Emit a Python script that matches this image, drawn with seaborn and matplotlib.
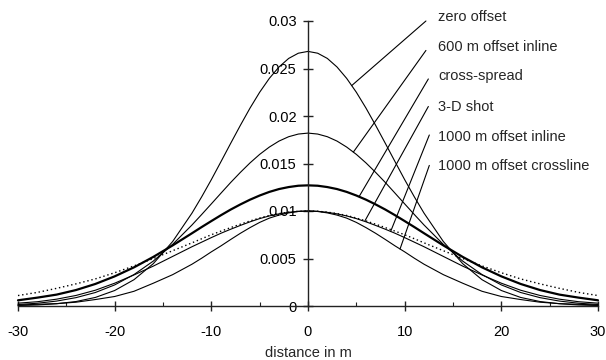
import numpy as np
import pandas as pd
import matplotlib
matplotlib.use("Agg")
import matplotlib.pyplot as plt
from matplotlib.ticker import FixedLocator
import seaborn as sns

# ---- data ----
distance = [-30, -28, -26, -24, -22, -20, -18, -16, -14, -12, -11, -10, -9, -8, -7, -6, -5, -4, -3, -2, -1,
            0, 1, 2, 3, 4, 5, 6, 7, 8, 9, 10, 11, 12, 14, 16, 18, 20, 22, 24, 26, 28, 30]

zero_offset = [0.00005, 0.00011, 0.00024, 0.00047, 0.00090, 0.00163, 0.00277, 0.00446, 0.00679, 0.00978, 0.01149,
               0.01330, 0.01520, 0.01712, 0.01901, 0.02083, 0.02250, 0.02396, 0.02516, 0.02606, 0.02661,
               0.02680,
               0.02661, 0.02606, 0.02516, 0.02396, 0.02250, 0.02083, 0.01901, 0.01712, 0.01520, 0.01330,
               0.01149, 0.00978, 0.00679, 0.00446, 0.00277, 0.00163, 0.00090, 0.00047, 0.00024, 0.00011, 0.00005]
offset600_inline = [0.00016, 0.00029, 0.00052, 0.00088, 0.00142, 0.00222, 0.00331, 0.00473, 0.00649, 0.00853, 0.00963,
                    0.01075, 0.01188, 0.01300, 0.01406, 0.01506, 0.01596, 0.01673, 0.01736, 0.01782, 0.01810,
                    0.01820,
                    0.01810, 0.01782, 0.01736, 0.01673, 0.01596, 0.01506, 0.01406, 0.01300, 0.01188, 0.01075,
                    0.00963, 0.00853, 0.00649, 0.00473, 0.00331, 0.00222, 0.00142, 0.00088, 0.00052, 0.00029, 0.00016]
cross_spread = [0.00060, 0.00088, 0.00120, 0.00168, 0.00232, 0.00312, 0.00407, 0.00517, 0.00638, 0.00766, 0.00831,
                0.00894, 0.00956, 0.01015, 0.01069, 0.01119, 0.01163, 0.01201, 0.01231, 0.01252, 0.01266,
                0.01270,
                0.01266, 0.01252, 0.01231, 0.01201, 0.01163, 0.01119, 0.01069, 0.01015, 0.00956, 0.00894,
                0.00831, 0.00766, 0.00638, 0.00517, 0.00407, 0.00312, 0.00232, 0.00168, 0.00120, 0.00088, 0.00060]
shot_3d = [0.00110, 0.00143, 0.00186, 0.00233, 0.00285, 0.00350, 0.00422, 0.00500, 0.00582, 0.00665, 0.00708,
           0.00750, 0.00788, 0.00825, 0.00861, 0.00895, 0.00926, 0.00953, 0.00973, 0.00988, 0.00997,
           0.01000,
           0.00997, 0.00988, 0.00973, 0.00953, 0.00926, 0.00895, 0.00861, 0.00825, 0.00788, 0.00750,
           0.00708, 0.00665, 0.00582, 0.00500, 0.00422, 0.00350, 0.00285, 0.00233, 0.00186, 0.00143, 0.00110]
offset1000_inline = [0.00030, 0.00045, 0.00072, 0.00111, 0.00166, 0.00240, 0.00327, 0.00420, 0.00522, 0.00624, 0.00672,
                     0.00720, 0.00766, 0.00808, 0.00848, 0.00886, 0.00920, 0.00948, 0.00970, 0.00986, 0.00997,
                     0.01000,
                     0.00997, 0.00986, 0.00970, 0.00948, 0.00920, 0.00886, 0.00848, 0.00808, 0.00766, 0.00720,
                     0.00672, 0.00624, 0.00522, 0.00420, 0.00327, 0.00240, 0.00166, 0.00111, 0.00072, 0.00045, 0.00030]
offset1000_crossline = [0.00010, 0.00018, 0.00025, 0.00040, 0.00068, 0.00100, 0.00155, 0.00240, 0.00330, 0.00440, 0.00503,
                        0.00570, 0.00633, 0.00700, 0.00765, 0.00825, 0.00880, 0.00925, 0.00957, 0.00980, 0.00995,
                        0.01000,
                        0.00995, 0.00980, 0.00957, 0.00925, 0.00880, 0.00825, 0.00765, 0.00700, 0.00633, 0.00570,
                        0.00503, 0.00440, 0.00330, 0.00240, 0.00155, 0.00100, 0.00068, 0.00040, 0.00025, 0.00018, 0.00010]

series_names = ["zero offset", "600 m offset inline", "cross-spread", "3-D shot",
                "1000 m offset inline", "1000 m offset crossline"]
series_values = [zero_offset, offset600_inline, cross_spread, shot_3d,
                 offset1000_inline, offset1000_crossline]

x_ticks = [-30, -20, -10, 0, 10, 20, 30]
x_tick_labels = ["-30", "-20", "-10", "0", "10", "20", "30"]
x_minor = [-25, -15, -5, 5, 15, 25]
y_ticks = [0, 0.005, 0.01, 0.015, 0.02, 0.025, 0.03]
y_tick_labels = ["0", "0.005", "0.01", "0.015", "0.02", "0.025", "0.03"]

# label layout: text y, leader top (x, y), leader foot x on curve
label_text_x = 13.5
label_text_y = [0.03039, 0.02729, 0.02421, 0.02095, 0.01782, 0.01474]
leader_top = [(12.2, 0.0300), (12.2, 0.0269), (12.45, 0.0239), (12.45, 0.0210), (12.55, 0.0180), (12.55, 0.0148)]
leader_foot_x = [4.52, 4.69, 5.28, 5.9, 8.55, 9.52]

styles = {
    "zero offset": dict(lw=0.8, ls="-"),
    "600 m offset inline": dict(lw=0.8, ls="-"),
    "cross-spread": dict(lw=1.6, ls="-"),
    "3-D shot": dict(lw=1.0, ls=(0, (1, 2))),
    "1000 m offset inline": dict(lw=0.8, ls="-"),
    "1000 m offset crossline": dict(lw=0.8, ls="-"),
}

sns.set_style("white")
plt.rcParams["font.family"] = ["Liberation Sans", "DejaVu Sans"]

fig = plt.figure(figsize=(6.06, 3.60), dpi=100)
ax = fig.add_axes([18 / 606, 1 - 306 / 360, 580 / 606, 285 / 360])

for name, vals in zip(series_names, series_values):
    st = styles[name]
    df = pd.DataFrame({"distance": distance, "value": vals})
    sns.lineplot(data=df, x="distance", y="value", ax=ax, color="black",
                 linewidth=st["lw"], linestyle=st["ls"], clip_on=False)

for name, vals, ty, top, fx in zip(series_names, series_values, label_text_y, leader_top, leader_foot_x):
    fy = np.interp(fx, distance, vals)
    ax.plot([fx, top[0]], [fy, top[1]], color="black", lw=0.8, clip_on=False)
    ax.text(label_text_x, ty, name, ha="left", va="center", fontsize=10.5, clip_on=False)

ax.set_xlim(-30, 30)
ax.set_ylim(0, 0.03)
ax.spines["left"].set_position(("data", 0))
ax.spines["bottom"].set_position(("data", 0))
ax.spines["top"].set_visible(False)
ax.spines["right"].set_visible(False)
for s in ("left", "bottom"):
    ax.spines[s].set_color("#222222")
    ax.spines[s].set_linewidth(1.0)

ax.xaxis.set_major_locator(FixedLocator(x_ticks))
ax.set_xticklabels(x_tick_labels)
ax.xaxis.set_minor_locator(FixedLocator(x_minor))
ax.yaxis.set_major_locator(FixedLocator(y_ticks))
ax.set_yticklabels(y_tick_labels)

ax.tick_params(axis="x", which="major", direction="inout", length=7.5, width=1.0, bottom=True,
               pad=10, labelsize=10.5, labelcolor="black", color="#222222")
ax.tick_params(axis="x", which="minor", direction="in", length=3, width=0.8, bottom=True, color="#222222")
ax.tick_params(axis="y", which="major", direction="inout", length=7.5, width=1.0, left=True,
               pad=4.5, labelsize=10.5, labelcolor="black", color="#222222")

ax.set_xlabel("distance in m", fontsize=10.5, labelpad=5)
ax.set_ylabel("")
ax.grid(False)
ax.set_facecolor("white")

fig.savefig("out.png", dpi=100, facecolor="white")
